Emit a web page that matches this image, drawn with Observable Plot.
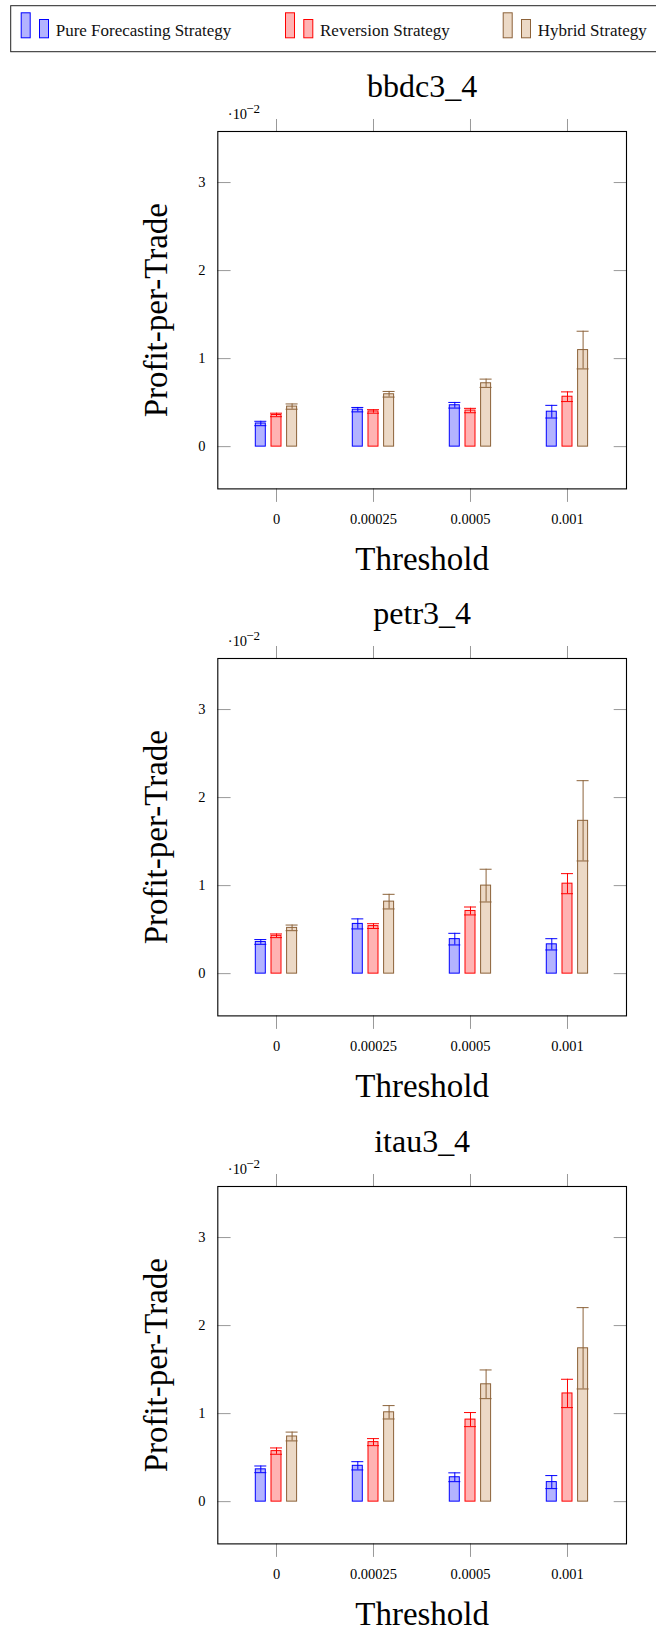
<!DOCTYPE html>
<html><head><meta charset="utf-8">
<script src="https://cdn.jsdelivr.net/npm/d3@7"></script>
<script src="https://cdn.jsdelivr.net/npm/@observablehq/plot@0.6"></script>
<style>
html,body{margin:0;padding:0;background:#fff;}
body{position:relative;width:656px;height:1629px;overflow:hidden;font-family:"Liberation Serif",serif;}
.panel{position:absolute;left:0;}
#legend{position:absolute;left:0;top:0;}
</style></head><body>
<svg id="legend" width="656" height="60"></svg>
<div id="charts"></div>
<script>
// ---- data (values in units of 10^-2) ----
const thresholds = ["0", "0.00025", "0.0005", "0.001"];
const seriesNames = ["Pure Forecasting Strategy", "Reversion Strategy", "Hybrid Strategy"];
const stocks = ["bbdc3_4", "petr3_4", "itau3_4"];

const bbdcPure = [0.263, 0.42, 0.47, 0.397];
const bbdcPureErr = [0.025, 0.025, 0.032, 0.072];
const bbdcRev = [0.36, 0.40, 0.41, 0.567];
const bbdcRevErr = [0.02, 0.02, 0.025, 0.055];
const bbdcHyb = [0.455, 0.595, 0.72, 1.097];
const bbdcHybErr = [0.03, 0.032, 0.047, 0.214];

const petrPure = [0.36, 0.565, 0.392, 0.333];
const petrPureErr = [0.027, 0.057, 0.066, 0.064];
const petrRev = [0.43, 0.54, 0.712, 1.022];
const petrRevErr = [0.021, 0.027, 0.045, 0.114];
const petrHyb = [0.52, 0.818, 1.0, 1.736];
const petrHybErr = [0.032, 0.083, 0.186, 0.456];

const itauPure = [0.367, 0.407, 0.277, 0.222];
const itauPureErr = [0.038, 0.047, 0.05, 0.074];
const itauRev = [0.574, 0.676, 0.932, 1.229];
const itauRevErr = [0.036, 0.04, 0.08, 0.161];
const itauHyb = [0.74, 1.015, 1.333, 1.742];
const itauHybErr = [0.05, 0.076, 0.163, 0.462];

const yTicks = [0, 1, 2, 3];

// ---- styles ----
const strokes = ["#0000ff", "#ff0000", "#8c6239"];
const fills = ["#b3b3ff", "#ffb3b3", "#ecd9c6"];
const offsets = [-15.7, 0, 15.6];
const font = "'Liberation Serif', serif";

// ---- legend ----
(function legend() {
  const svg = d3.select("#legend");
  svg.append("rect").attr("x", 10.7).attr("y", 5.7).attr("width", 700).attr("height", 46)
    .attr("fill", "none").attr("stroke", "#222").attr("stroke-width", 1);
  const starts = [20.7, 285, 502.7];
  seriesNames.forEach((name, i) => {
    const x0 = starts[i];
    svg.append("rect").attr("x", x0 + 0.5).attr("y", 12.8).attr("width", 9).attr("height", 25)
      .attr("fill", fills[i]).attr("stroke", strokes[i]).attr("stroke-width", 1);
    svg.append("rect").attr("x", x0 + 18.8).attr("y", 19.5).attr("width", 9).attr("height", 18.3)
      .attr("fill", fills[i]).attr("stroke", strokes[i]).attr("stroke-width", 1);
    svg.append("text").attr("x", x0 + 35).attr("y", 35.7).attr("font-size", 17)
      .attr("font-family", font).attr("fill", "#111").text(name);
  });
})();

// ---- panels ----
const panelData = [
  [bbdcPure, bbdcPureErr, bbdcRev, bbdcRevErr, bbdcHyb, bbdcHybErr],
  [petrPure, petrPureErr, petrRev, petrRevErr, petrHyb, petrHybErr],
  [itauPure, itauPureErr, itauRev, itauRevErr, itauHyb, itauHybErr]
];
const frameTops = [130.7, 658.2, 1185.7];
const mTop = 70, mBottom = 90, frameH = 357.4;

stocks.forEach((stock, p) => {
  const arr = panelData[p];
  const rows = [];
  seriesNames.forEach((s, k) => {
    thresholds.forEach((t, j) => {
      rows.push({threshold: t, series: s, k, value: arr[2 * k][j], err: arr[2 * k + 1][j]});
    });
  });
  const marks = [];
  seriesNames.forEach((s, k) => {
    const d = rows.filter(r => r.k === k);
    marks.push(
      Plot.barY(d, {x: "threshold", y: "value", fill: fills[k], stroke: strokes[k], strokeWidth: 1, dx: offsets[k]}),
      Plot.ruleX(d, {x: "threshold", y1: r => r.value - r.err, y2: r => r.value + r.err, stroke: strokes[k], strokeWidth: 1, dx: offsets[k]}),
      Plot.tickY(d, {x: "threshold", y: r => r.value + r.err, stroke: strokes[k], strokeWidth: 1, dx: offsets[k], insetLeft: -1, insetRight: -1}),
      Plot.tickY(d, {x: "threshold", y: r => r.value - r.err, stroke: strokes[k], strokeWidth: 1, dx: offsets[k], insetLeft: -1, insetRight: -1})
    );
  });
  const chart = Plot.plot({
    width: 656,
    height: mTop + frameH + mBottom,
    marginLeft: 217.3, marginRight: 30, marginTop: mTop, marginBottom: mBottom,
    style: {fontFamily: font, background: "transparent", overflow: "visible", color: "black"},
    x: {type: "band", domain: thresholds, paddingInner: 0.9, paddingOuter: 0.5525, align: 0.5},
    y: {domain: [-0.48, 3.58]},
    marks: [
      Plot.axisX({anchor: "top", tickSize: 13, fill: "none", stroke: "#999"}),
      Plot.axisX({anchor: "bottom", tickSize: 13.5, tickPadding: 11.5, fontSize: 14.5, label: null, stroke: "#999", fill: "black"}),
      Plot.axisY({anchor: "left", ticks: yTicks, tickSize: 13.3, dx: 13.3, fill: "none", stroke: "#999"}),
      Plot.axisY({anchor: "right", ticks: yTicks, tickSize: 13.3, dx: -13.3, fill: "none", stroke: "#999"}),
      Plot.axisY({anchor: "left", ticks: yTicks, tickFormat: d => String(d), tickSize: 0, tickPadding: 12.3, fontSize: 14.5, label: null, fill: "black"}),
      ...marks,
      Plot.frame({stroke: "black", strokeWidth: 1.1}),
      Plot.text([stock], {frameAnchor: "top", dy: -34, lineAnchor: "bottom", fontSize: 32, fill: "black"}),
      Plot.text(["·10"], {frameAnchor: "top-left", textAnchor: "start", dx: 10, dy: -12.4, lineAnchor: "bottom", fontSize: 14.5, fill: "black"}),
      Plot.text(["−2"], {frameAnchor: "top-left", textAnchor: "start", dx: 28.5, dy: -18.5, lineAnchor: "bottom", fontSize: 13, fill: "black"}),
      Plot.text(["Profit-per-Trade"], {frameAnchor: "left", rotate: -90, dx: -50.6, textAnchor: "middle", lineAnchor: "bottom", fontSize: 33, fill: "black"}),
      Plot.text(["Threshold"], {frameAnchor: "bottom", dy: 81, lineAnchor: "bottom", fontSize: 33, fill: "black"})
    ]
  });
  chart.classList.add("panel");
  chart.style.top = (frameTops[p] - mTop) + "px";
  document.getElementById("charts").appendChild(chart);
});
</script>
</body></html>
